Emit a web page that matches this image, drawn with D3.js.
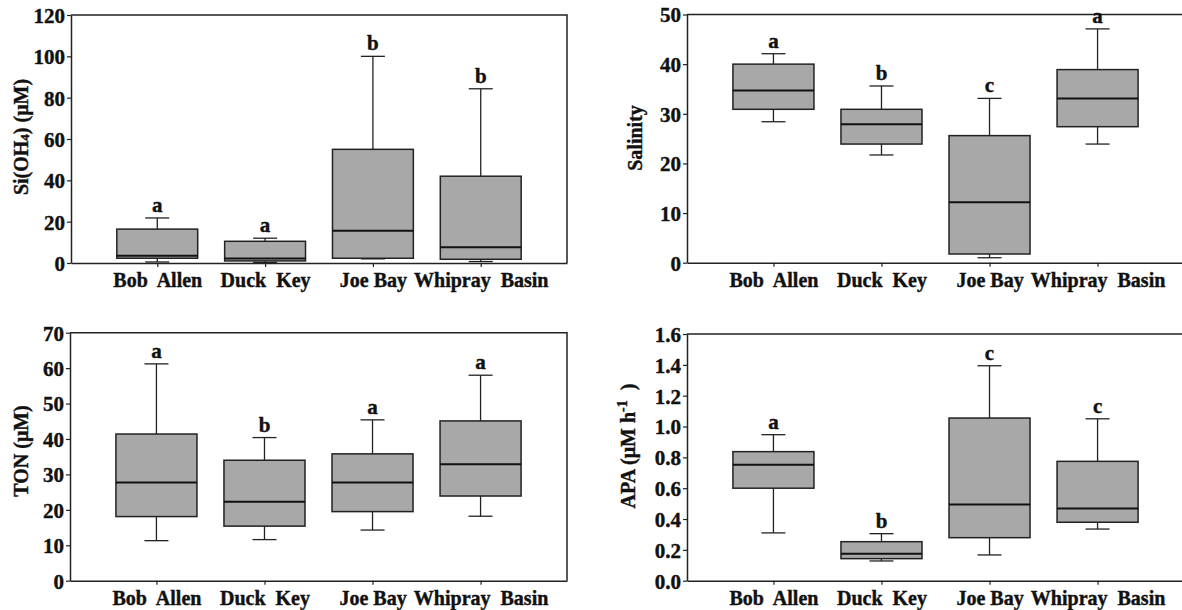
<!DOCTYPE html>
<html>
<head>
<meta charset="utf-8">
<script src="https://d3js.org/d3.v7.min.js"></script>
<style>
  body { margin: 0; background: #fff; }
</style>
</head>
<body>
<svg width="1182" height="610"></svg>
<script>
const sites = ["Bob Allen", "Duck Key", "Joe Bay", "Whipray Basin"];
const siteLabels = ["Bob  Allen", "Duck  Key", "Joe Bay", "Whipray  Basin"];

// [low whisker, q1, median, q3, high whisker] per site
const silicate = [[0.5, 2.3, 3.5, 16.4, 21.8], [0.3, 1.0, 2.2, 10.5, 12], [2.0, 2.3, 15.6, 55, 100], [0.7, 1.8, 7.6, 42, 84.3]];
const silicateLetters = ["a", "a", "b", "b"];
const salinity = [[28.4, 30.9, 34.7, 40, 42.1], [21.7, 23.9, 27.9, 30.9, 35.6], [1.0, 1.75, 12.2, 25.6, 33.1], [23.9, 27.4, 33.1, 38.9, 47.1]];
const salinityLetters = ["a", "b", "c", "a"];
const ton = [[11.3, 18.1, 27.7, 41.4, 61.2], [11.6, 15.4, 22.3, 34.0, 40.4], [14.3, 19.5, 27.7, 35.8, 45.4], [18.2, 23.9, 32.9, 45.1, 58.0]];
const tonLetters = ["a", "b", "a", "a"];
const apa = [[0.31, 0.6, 0.752, 0.837, 0.947], [0.128, 0.143, 0.175, 0.253, 0.305], [0.167, 0.279, 0.495, 1.055, 1.394], [0.335, 0.379, 0.469, 0.774, 1.05]];
const apaLetters = ["a", "b", "c", "c"];

const siTicks = [0, 20, 40, 60, 80, 100, 120];
const salTicks = [0, 10, 20, 30, 40, 50];
const tonTicks = [0, 10, 20, 30, 40, 50, 60, 70];
const apaTicks = [0, 0.2, 0.4, 0.6, 0.8, 1.0, 1.2, 1.4, 1.6];

const FONT = '"Liberation Serif", "Times New Roman", serif';
const svg = d3.select("svg");

// bold serif, with a hairline stroke so it reads as heavy as the printed figure
function serif(sel, size) {
  return sel.style("font-family", FONT).style("font-weight", "bold")
    .style("font-size", size + "px").attr("fill", "#111")
    .attr("stroke", "#111").attr("stroke-width", 0.4);
}

const panels = [
  { data: silicate, letters: silicateLetters, ticks: siTicks, fmt: d3.format("d"), x0: 71, x1: 567, y0: 15, y1: 263, labelX: 21, labelY: 137, title: "si" },
  { data: salinity, letters: salinityLetters, ticks: salTicks, fmt: d3.format("d"), x0: 687, x1: 1184, y0: 14.5, y1: 262.7, labelX: 635, labelY: 138, title: "Salinity" },
  { data: ton, letters: tonLetters, ticks: tonTicks, fmt: d3.format("d"), x0: 70, x1: 567, y0: 332.7, y1: 580.7, labelX: 21, labelY: 451, title: "TON (μM)" },
  { data: apa, letters: apaLetters, ticks: apaTicks, fmt: d3.format(".1f"), x0: 687, x1: 1184, y0: 334, y1: 580.7, labelX: 628, labelY: 446, title: "apa" }
];

panels.forEach(p => {
  const g = svg.append("g");
  const x = d3.scalePoint().domain(sites).range([p.x0, p.x1]).padding(0.8);
  const y = d3.scaleLinear().domain([p.ticks[0], p.ticks[p.ticks.length - 1]]).range([p.y1, p.y0]);
  const bw = x.step() * 0.75;

  // frame (top + right)
  g.append("path")
    .attr("d", `M${p.x0},${p.y0}H${p.x1}V${p.y1}`)
    .attr("fill", "none").attr("stroke", "#222").attr("stroke-width", 1.5);

  const yAxis = g.append("g").attr("transform", `translate(${p.x0},0)`)
    .call(d3.axisLeft(y).tickValues(p.ticks).tickFormat(p.fmt).tickSize(4).tickSizeOuter(0).tickPadding(2));
  serif(yAxis.selectAll("text"), 21).attr("dy", "0.35em");

  const xAxis = g.append("g").attr("transform", `translate(0,${p.y1})`)
    .call(d3.axisBottom(x).tickSize(4).tickSizeOuter(0).tickPadding(6).tickFormat((d, i) => siteLabels[i]));
  serif(xAxis.selectAll("text"), 20).style("white-space", "pre").attr("dy", "0.71em");

  [yAxis, xAxis].forEach(a => {
    a.select(".domain").attr("stroke", "#222").attr("stroke-width", 1.5);
    a.selectAll(".tick line").attr("stroke", "#222").attr("stroke-width", 1.2);
  });

  const box = g.selectAll(".box").data(p.data).join("g")
    .attr("transform", (d, i) => `translate(${x(sites[i])},0)`);

  box.append("line").attr("x1", 0).attr("x2", 0)
    .attr("y1", d => y(d[3])).attr("y2", d => y(d[4])).attr("stroke", "#222").attr("stroke-width", 1.3);
  box.append("line").attr("x1", 0).attr("x2", 0)
    .attr("y1", d => y(d[1])).attr("y2", d => y(d[0])).attr("stroke", "#222").attr("stroke-width", 1.3);
  box.append("line").attr("x1", -12).attr("x2", 12)
    .attr("y1", d => y(d[4])).attr("y2", d => y(d[4])).attr("stroke", "#222").attr("stroke-width", 1.3);
  box.append("line").attr("x1", -12).attr("x2", 12)
    .attr("y1", d => y(d[0])).attr("y2", d => y(d[0])).attr("stroke", "#222").attr("stroke-width", 1.3);
  box.append("rect").attr("x", -bw / 2).attr("width", bw)
    .attr("y", d => y(d[3])).attr("height", d => y(d[1]) - y(d[3]))
    .attr("fill", "#a8a8a9").attr("stroke", "#222").attr("stroke-width", 1.5);
  box.append("line").attr("x1", -bw / 2).attr("x2", bw / 2)
    .attr("y1", d => y(d[2])).attr("y2", d => y(d[2])).attr("stroke", "#111").attr("stroke-width", 2);

  serif(box.append("text"), 21).attr("text-anchor", "middle")
    .attr("y", d => y(d[4]) - 6)
    .text((d, i) => p.letters[i]);

  // y title
  const t = serif(g.append("text"), 20).attr("text-anchor", "middle")
    .attr("transform", `translate(${p.labelX},${p.labelY}) rotate(-90)`)
    .attr("dy", "0.35em");
  if (p.title === "si") {
    t.append("tspan").text("Si(OH");
    t.append("tspan").text("4").style("font-size", "13px").attr("dy", 1);
    t.append("tspan").text(") (μM)").attr("dy", -1);
  } else if (p.title === "apa") {
    t.append("tspan").text("APA (μM h");
    t.append("tspan").text("-1").style("font-size", "14px").attr("dy", -8);
    t.append("tspan").text("  )").attr("dy", 8).style("white-space", "pre");
  } else {
    t.text(p.title);
  }
});
</script>
</body>
</html>
